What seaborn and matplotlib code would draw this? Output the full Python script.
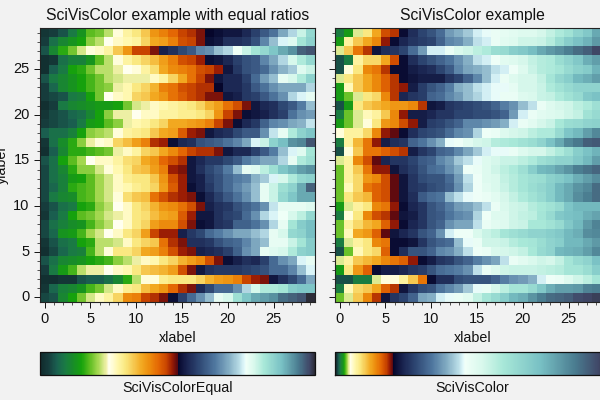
import matplotlib

matplotlib.use("Agg")

import matplotlib.pyplot as plt
import numpy as np
import seaborn as sns
from matplotlib.colors import LinearSegmentedColormap
from matplotlib.ticker import MultipleLocator

# rows run from y=0 (bottom) up to y=29, values in percent of the colour range
row_values = [
    [4, 5, 11, 15, 19, 23, 27, 29, 33, 40, 41, 46, 47, 49, 51, 57, 62, 66, 70, 76, 78, 83, 87, 90, 91, 92, 95, 96, 97, 100],
    [2, 7, 10, 11, 13, 17, 19, 23, 27, 30, 31, 35, 37, 39, 43, 47, 49, 54, 58, 62, 62, 66, 72, 78, 81, 81, 82, 86, 87, 87],
    [1, 1, 2, 2, 5, 6, 6, 8, 11, 16, 22, 26, 26, 30, 31, 31, 31, 33, 36, 38, 39, 41, 46, 48, 49, 52, 55, 58, 62, 68],
    [3, 9, 14, 17, 22, 24, 24, 25, 27, 28, 31, 34, 35, 36, 38, 45, 49, 52, 55, 56, 56, 56, 57, 58, 59, 62, 62, 65, 70, 74],
    [5, 8, 11, 12, 13, 15, 16, 17, 20, 22, 24, 27, 28, 31, 33, 36, 38, 40, 45, 49, 51, 53, 55, 54, 57, 62, 66, 68, 74, 76],
    [1, 4, 7, 9, 10, 17, 22, 26, 31, 31, 33, 37, 38, 41, 45, 48, 49, 53, 54, 55, 57, 61, 66, 68, 76, 77, 78, 81, 85, 86],
    [2, 5, 8, 9, 15, 16, 22, 22, 23, 27, 31, 33, 34, 42, 47, 49, 55, 55, 56, 59, 61, 62, 65, 68, 70, 76, 76, 79, 82, 86],
    [4, 7, 13, 14, 17, 21, 23, 25, 27, 31, 33, 38, 46, 48, 48, 53, 56, 58, 62, 64, 66, 68, 68, 70, 72, 76, 78, 84, 85, 88],
    [4, 8, 10, 12, 13, 17, 20, 22, 25, 27, 31, 33, 38, 40, 40, 45, 49, 51, 52, 55, 56, 61, 61, 63, 66, 72, 76, 82, 86, 88],
    [2, 6, 9, 15, 18, 19, 21, 23, 24, 27, 31, 32, 35, 37, 38, 44, 48, 52, 52, 55, 57, 58, 62, 66, 72, 74, 75, 78, 80, 84],
    [3, 5, 8, 9, 15, 16, 20, 22, 25, 27, 31, 33, 36, 39, 40, 42, 45, 49, 53, 55, 56, 59, 61, 63, 66, 73, 76, 76, 76, 77],
    [4, 9, 11, 12, 17, 18, 21, 23, 26, 32, 34, 35, 42, 45, 47, 48, 49, 51, 54, 57, 60, 63, 66, 70, 76, 79, 84, 87, 90, 90],
    [4, 7, 10, 16, 17, 18, 21, 23, 27, 28, 30, 31, 33, 38, 44, 48, 51, 53, 56, 59, 62, 65, 67, 70, 76, 79, 83, 85, 90, 96],
    [4, 8, 10, 14, 15, 18, 21, 23, 27, 30, 31, 31, 34, 39, 45, 48, 52, 53, 57, 59, 62, 64, 65, 69, 71, 74, 78, 81, 84, 85],
    [4, 8, 11, 16, 20, 20, 23, 26, 28, 31, 34, 35, 38, 41, 48, 49, 52, 55, 58, 60, 64, 70, 76, 77, 80, 83, 87, 89, 91, 92],
    [5, 8, 15, 18, 21, 25, 27, 27, 29, 32, 33, 37, 39, 43, 45, 47, 52, 54, 56, 56, 58, 60, 64, 66, 68, 68, 72, 76, 81, 83],
    [1, 6, 11, 16, 16, 17, 18, 19, 24, 27, 29, 33, 34, 37, 40, 43, 46, 47, 47, 49, 52, 54, 54, 57, 60, 64, 70, 74, 77, 82],
    [2, 8, 12, 16, 20, 24, 26, 27, 33, 35, 38, 41, 47, 48, 51, 54, 55, 59, 60, 61, 63, 65, 68, 74, 79, 85, 88, 92, 93, 97],
    [6, 8, 8, 10, 15, 20, 21, 22, 26, 29, 30, 31, 34, 37, 38, 44, 48, 49, 52, 54, 55, 58, 60, 60, 66, 73, 76, 81, 85, 87],
    [3, 4, 5, 6, 9, 14, 15, 18, 20, 24, 28, 29, 31, 33, 37, 37, 38, 39, 41, 46, 49, 51, 54, 56, 61, 65, 66, 68, 69, 73],
    [2, 4, 5, 7, 8, 11, 15, 20, 24, 24, 25, 27, 27, 29, 29, 30, 30, 31, 33, 39, 46, 49, 51, 52, 53, 55, 57, 63, 66, 67],
    [1, 3, 9, 11, 12, 13, 14, 14, 15, 19, 23, 24, 27, 28, 29, 30, 31, 33, 36, 38, 42, 45, 49, 52, 54, 55, 58, 60, 64, 70],
    [3, 4, 5, 9, 10, 15, 19, 25, 27, 28, 33, 34, 37, 39, 42, 44, 46, 47, 49, 49, 52, 53, 56, 57, 60, 63, 66, 72, 74, 76],
    [3, 7, 11, 13, 15, 17, 19, 20, 24, 28, 31, 33, 36, 41, 42, 45, 46, 47, 47, 50, 54, 54, 56, 60, 63, 66, 68, 68, 68, 72],
    [5, 9, 11, 13, 15, 17, 19, 22, 23, 24, 24, 24, 27, 29, 33, 37, 42, 46, 49, 52, 54, 54, 57, 62, 67, 70, 76, 78, 81, 85],
    [1, 6, 9, 15, 16, 19, 22, 22, 24, 25, 26, 29, 32, 37, 40, 41, 42, 45, 46, 48, 52, 56, 59, 60, 62, 66, 69, 71, 77, 79],
    [1, 2, 8, 10, 10, 13, 18, 22, 26, 29, 31, 33, 35, 38, 41, 45, 46, 48, 51, 52, 54, 57, 59, 60, 65, 68, 72, 78, 81, 84],
    [5, 11, 16, 19, 23, 26, 27, 29, 34, 39, 46, 46, 49, 53, 55, 58, 60, 65, 66, 70, 72, 75, 79, 82, 84, 87, 90, 92, 96, 97],
    [3, 8, 11, 13, 15, 20, 22, 25, 27, 28, 29, 33, 37, 38, 41, 45, 46, 49, 51, 52, 55, 55, 56, 59, 65, 70, 74, 77, 82, 85],
    [2, 3, 5, 9, 13, 18, 19, 22, 26, 29, 31, 34, 39, 41, 43, 46, 47, 49, 50, 51, 52, 52, 54, 57, 60, 63, 68, 72, 79, 84],
]

tick_values = [0, 5, 10, 15, 20, 25]
equal_ratios = [1, 1, 1, 1]
scivis_ratios = [1, 3, 5, 10]

# colour stops of the four joined ramps, as (fraction within the ramp, colour)
greens_stops = [(0.0, "#102a2c"), (0.12, "#163c3c"), (0.24, "#1a6050"), (0.36, "#1a7a44"),
                (0.48, "#188c28"), (0.6, "#16a20c"), (0.72, "#5cbc20"), (0.84, "#a4d850"),
                (0.96, "#f0f0a8"), (1.0, "#fffff0")]
oranges_stops = [(0.0, "#fffff0"), (0.12, "#fff8b0"), (0.24, "#fae880"), (0.36, "#f6c850"),
                 (0.48, "#f2a820"), (0.6, "#ec8a0c"), (0.72, "#e46804"), (0.84, "#c84400"),
                 (0.92, "#9a1c04"), (1.0, "#5a0810")]
blues_stops = [(0.0, "#05052a"), (0.14, "#1a2450"), (0.3, "#2c4470"), (0.55, "#5078a0"),
               (0.75, "#84aec4"), (0.9, "#b8dce6"), (0.97, "#e0f8fa"), (1.0, "#f0fff8")]
teals_stops = [(0.0, "#f0fff8"), (0.12, "#d8f8ec"), (0.26, "#a8e8d8"), (0.52, "#78c0c4"),
               (0.76, "#4a7c90"), (0.92, "#404868"), (1.0, "#2c2c38")]


def joined_cmap(name, ratios):
    ramps = [greens_stops, oranges_stops, blues_stops, teals_stops]
    edges = np.cumsum([0] + ratios) / sum(ratios)
    nodes = []
    for start, stop, ramp in zip(edges[:-1], edges[1:], ramps):
        for frac, color in ramp:
            nodes.append((start + frac * (stop - start), color))
    return LinearSegmentedColormap.from_list(name, nodes, N=512)


def draw_panel(ax, cax, data, cmap, title, cbar_label):
    sns.heatmap(
        data,
        cmap=cmap,
        vmin=0,
        vmax=100,
        ax=ax,
        cbar_ax=cax,
        cbar_kws={"orientation": "horizontal"},
    )
    ax.set_ylim(0, 30)
    ax.set_xlim(0, 30)
    ticks = np.array(tick_values) + 0.5
    ax.set_xticks(ticks, labels=tick_values, rotation=0)
    ax.set_yticks(ticks, labels=tick_values, rotation=0)
    ax.xaxis.set_minor_locator(MultipleLocator(1, offset=0.5))
    ax.yaxis.set_minor_locator(MultipleLocator(1, offset=0.5))
    ax.tick_params(which="major", length=4.2, width=0.7, labelsize=10.5, pad=3.2, color="#111111", labelcolor="#111111")
    ax.tick_params(which="minor", length=2.3, width=0.5, color="#111111")
    for spine in ax.spines.values():
        spine.set_visible(True)
        spine.set_linewidth(0.8)
        spine.set_color("#222222")
    ax.set_title(title, fontsize=11.3, pad=5.5, color="#111111")
    ax.set_xlabel("xlabel", fontsize=10.3, labelpad=3.5, color="#111111")

    cbar = ax.collections[0].colorbar
    cbar.set_ticks([])
    cbar.minorticks_off()
    cbar.outline.set_linewidth(0.9)
    cbar.outline.set_edgecolor("#111111")
    cax.set_xlabel(cbar_label, fontsize=10.3, labelpad=4, color="#111111")


def main():
    sns.set_style("ticks")
    plt.rcParams["font.family"] = ["Liberation Sans", "DejaVu Sans"]
    plt.rcParams["figure.facecolor"] = "#f2f2f2"

    data = np.array(row_values)
    fig = plt.figure(figsize=(6, 4), dpi=100)

    w, h = 600.0, 400.0
    ax_left = fig.add_axes([40 / w, (h - 302) / h, 275 / w, 274 / h])
    ax_right = fig.add_axes([335 / w, (h - 302) / h, 275 / w, 274 / h])
    cax_left = fig.add_axes([40 / w, (h - 375) / h, 275 / w, 23 / h])
    cax_right = fig.add_axes([335 / w, (h - 375) / h, 275 / w, 23 / h])

    draw_panel(ax_left, cax_left, data, joined_cmap("SciVisColorEqual", equal_ratios),
               "SciVisColor example with equal ratios", "SciVisColorEqual")
    draw_panel(ax_right, cax_right, data, joined_cmap("SciVisColor", scivis_ratios),
               "SciVisColor example", "SciVisColor")

    ax_left.set_ylabel("ylabel", fontsize=10.3, color="#111111")
    ax_left.yaxis.set_label_coords(-31 / 275, 0.5)
    ax_right.set_ylabel("")
    ax_right.tick_params(axis="y", labelleft=False)

    fig.savefig("out.png", dpi=100, facecolor=fig.get_facecolor())
    plt.close(fig)


if __name__ == "__main__":
    main()
